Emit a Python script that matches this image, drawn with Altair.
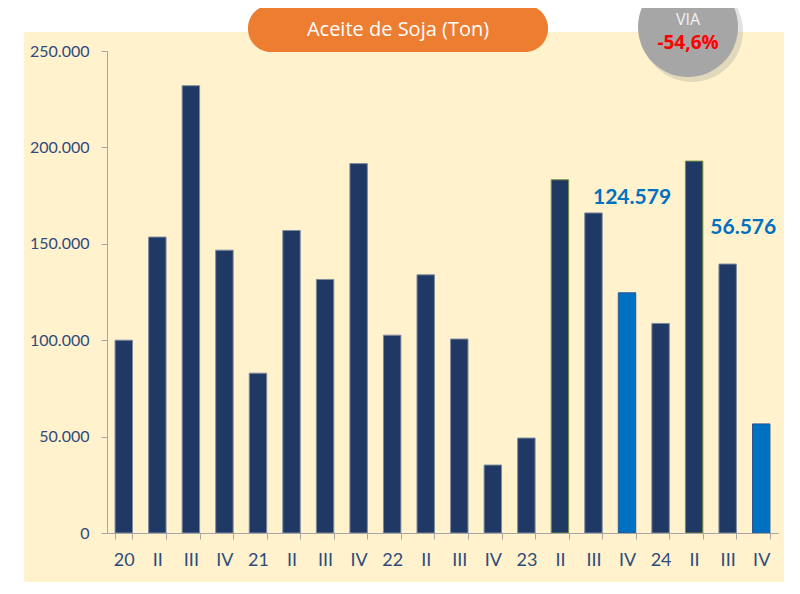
import json
import altair as alt
import pandas as pd

# ---- data ----
periodos = ["2020-I", "2020-II", "2020-III", "2020-IV",
            "2021-I", "2021-II", "2021-III", "2021-IV",
            "2022-I", "2022-II", "2022-III", "2022-IV",
            "2023-I", "2023-II", "2023-III", "2023-IV",
            "2024-I", "2024-II", "2024-III", "2024-IV"]
etiquetas = ["20", "II", "III", "IV", "21", "II", "III", "IV", "22", "II",
             "III", "IV", "23", "II", "III", "IV", "24", "II", "III", "IV"]
valores = [100000, 153500, 232000, 146700, 82900, 156900, 131500, 191600,
           102600, 133900, 100600, 35250, 49250, 183200, 166000, 124579,
           108700, 192900, 139500, 56576]
tipos = ["normal"] * 13 + ["verde", "normal", "actual", "normal", "verde", "normal", "actual"]
destacados = {"2023-IV": "124.579", "2024-IV": "56.576"}
titulo = "Aceite de Soja (Ton)"
via_titulo = "VIA"
via_valor = "-54,6%"
y_ticks = [0, 50000, 100000, 150000, 200000, 250000]

df = pd.DataFrame({"periodo": periodos, "valor": valores, "tipo": tipos})
df["etiqueta"] = df["periodo"].map(destacados).fillna("")
one = pd.DataFrame({"k": [0]})

NAVY = "#203864"
BLUE = "#0070C0"
TXT = "#2F4B7C"
AXC = "#A6A6A6"

label_expr = "{}[indexof({}, datum.value)]".format(
    json.dumps(etiquetas).replace('"', "'"), json.dumps(periodos).replace('"', "'"))

x_enc = alt.X("periodo:N", sort=periodos,
              scale=alt.Scale(paddingInner=0.48, paddingOuter=0.24),
              axis=alt.Axis(title=None, labelExpr=label_expr, labelAngle=0,
                            tickBand="extent", tickSize=6, tickColor=AXC,
                            domainColor=AXC, labelFont="Lato", labelFontSize=18,
                            labelColor=TXT, labelPadding=12, grid=False, zindex=2))
y_enc = alt.Y("valor:Q", scale=alt.Scale(domain=[0, 250000], nice=False),
              axis=alt.Axis(title=None, values=y_ticks,
                            labelExpr="replace(format(datum.value, ','), ',', '.')",
                            tickSize=6, tickColor=AXC, domainColor=AXC,
                            labelFont="Lato", labelFontSize=16, labelColor=TXT,
                            labelPadding=12, grid=False, zindex=2))

# decorations
fondo = alt.Chart(one).mark_rect(color="#FFF2CC").encode(
    x=alt.value(-83), x2=alt.value(677), y=alt.value(-19), y2=alt.value(531))
pill = alt.Chart(one).mark_rect(color="#ED7D31", cornerRadius=23).encode(
    x=alt.value(141), x2=alt.value(441), y=alt.value(-46), y2=alt.value(1))
pill_txt = alt.Chart(one).mark_text(color="white", font="Open Sans", fontSize=20,
                                    baseline="middle", align="center").encode(
    x=alt.value(291), y=alt.value(-21), text=alt.value(titulo))
sombra = alt.Chart(one).mark_point(filled=True, shape="circle", color="#8C8C8C",
                                   opacity=0.25, size=10400).encode(
    x=alt.value(585), y=alt.value(-20))
circulo = alt.Chart(one).mark_point(filled=True, shape="circle", color="#A6A6A6",
                                    opacity=1, size=10000).encode(
    x=alt.value(581), y=alt.value(-24))
via1 = alt.Chart(one).mark_text(color="#F2F2F2", font="Open Sans", fontSize=16,
                                baseline="middle", align="center").encode(
    x=alt.value(581), y=alt.value(-31), text=alt.value(via_titulo))
via2 = alt.Chart(one).mark_text(color="#FF0000", font="Open Sans", fontSize=19,
                                fontWeight="bold", baseline="middle", align="center").encode(
    x=alt.value(581), y=alt.value(-8), text=alt.value(via_valor))

barras = alt.Chart(df).mark_bar(strokeWidth=1).encode(
    x=x_enc, y=y_enc,
    color=alt.Color("tipo:N", legend=None,
                    scale=alt.Scale(domain=["normal", "verde", "actual"],
                                    range=[NAVY, NAVY, BLUE])),
    stroke=alt.Stroke("tipo:N", legend=None,
                      scale=alt.Scale(domain=["normal", "verde", "actual"],
                                      range=["#7F8BA0", "#77933C", "#2F5597"])))

lab1 = alt.Chart(df).transform_filter(alt.datum.periodo == "2023-IV").mark_text(
    color=BLUE, font="Lato", fontSize=21, fontWeight="bold", baseline="middle",
    align="center", dx=5, dy=-95).encode(x="periodo:N", y="valor:Q", text="etiqueta:N")
lab2 = alt.Chart(df).transform_filter(alt.datum.periodo == "2024-IV").mark_text(
    color=BLUE, font="Lato", fontSize=21, fontWeight="bold", baseline="middle",
    align="center", dx=-18, dy=-196).encode(x="periodo:N", y="valor:Q", text="etiqueta:N")

chart = alt.layer(fondo, pill, pill_txt, sombra, circulo, via1, via2, barras, lab1, lab2).properties(
    width=671, height=482,
    autosize=alt.AutoSizeParams(type="none"),
    padding={"left": 99, "top": 43, "right": 6, "bottom": 49},
    background="white",
).configure_view(stroke=None)

chart.save("out.html", embed_options={"renderer": "svg", "actions": False})
